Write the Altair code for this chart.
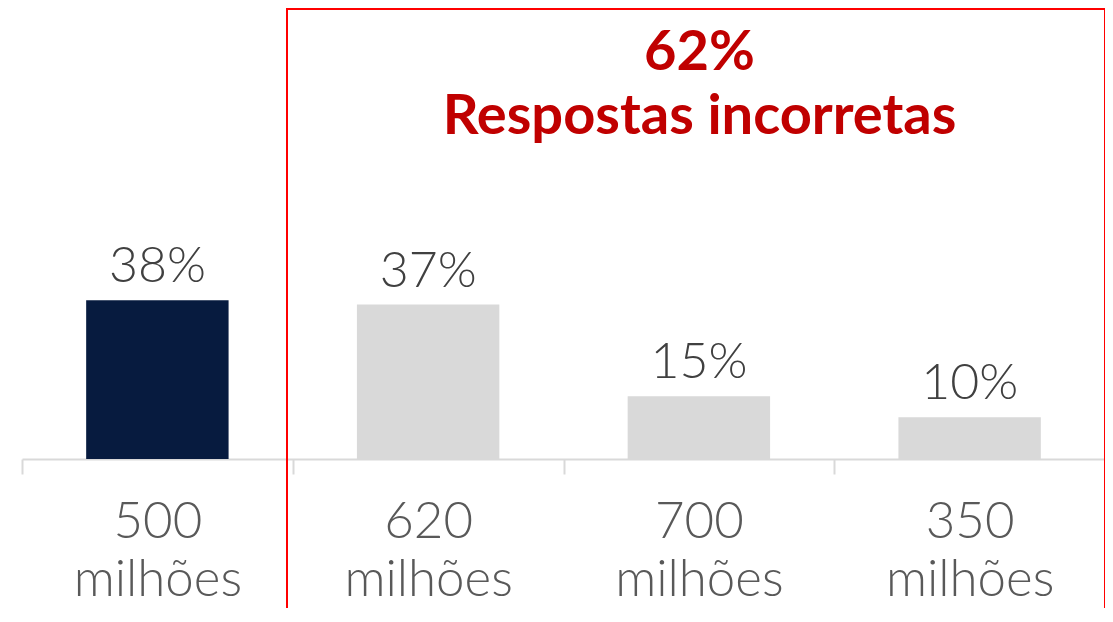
import altair as alt
import pandas as pd

categories = ["500 milhões", "620 milhões", "700 milhões", "350 milhões"]
values = [38, 37, 15, 10]
correct = ["certa", "errada", "errada", "errada"]
title_lines = ["62%", "Respostas incorretas"]

df = pd.DataFrame({"cat": categories, "val": values, "tipo": correct})

FONT = "Lato"

x_enc = alt.X(
    "cat:N",
    sort=categories,
    scale=alt.Scale(paddingInner=0, paddingOuter=0),
    axis=alt.Axis(
        title=None,
        labelAngle=0,
        labelExpr="split(datum.label, ' ')",
        labelFontSize=51,
        labelFont=FONT,
        labelFontWeight=300,
        labelColor="#595959",
        labelLineHeight=58,
        labelPadding=23,
        domainColor="#d9d9d9",
        domainWidth=2,
        tickColor="#d9d9d9",
        tickWidth=2,
        tickSize=15,
        tickBand="extent",
        grid=False,
    ),
)
y_enc = alt.Y("val:Q", scale=alt.Scale(domain=[0, 74], nice=False), axis=None)

bars = alt.Chart(df).mark_bar(width={"band": 0.526}).encode(
    x=x_enc,
    y=y_enc,
    color=alt.Color(
        "tipo:N",
        scale=alt.Scale(domain=["certa", "errada"], range=["#071b3f", "#d9d9d9"]),
        legend=None,
    ),
)

labels = alt.Chart(df).transform_calculate(
    lbl="datum.val + '%'"
).mark_text(
    fontSize=50, font=FONT, fontWeight=300, color="#404040",
    baseline="alphabetic", dy=-18
).encode(x=alt.X("cat:N", sort=categories), y="val:Q", text="lbl:N")

box = alt.Chart(pd.DataFrame({"k": [1]})).mark_rect(
    fill="transparent", stroke="#ff0000", strokeWidth=2
).encode(
    x=alt.value(265), x2=alt.value(1083), y=alt.value(-141), y2=alt.value(480)
)

chart = (
    alt.layer(box, bars, labels)
    .properties(
        width=1083,
        height=309,
        autosize=alt.AutoSizeParams(type="none"),
        padding={"left": 14, "top": 142, "right": 0, "bottom": 149},
        title=alt.TitleParams(
            text=title_lines,
            fontSize=56,
            font=FONT,
            fontWeight="bold",
            color="#c00000",
            lineHeight=64,
            anchor="middle",
            frame="group",
            dx=136,
            dy=138,
            offset=0,
        ),
    )
    .configure_view(stroke=None)
)

chart.save("out.html", embed_options={"renderer": "svg", "actions": False})
